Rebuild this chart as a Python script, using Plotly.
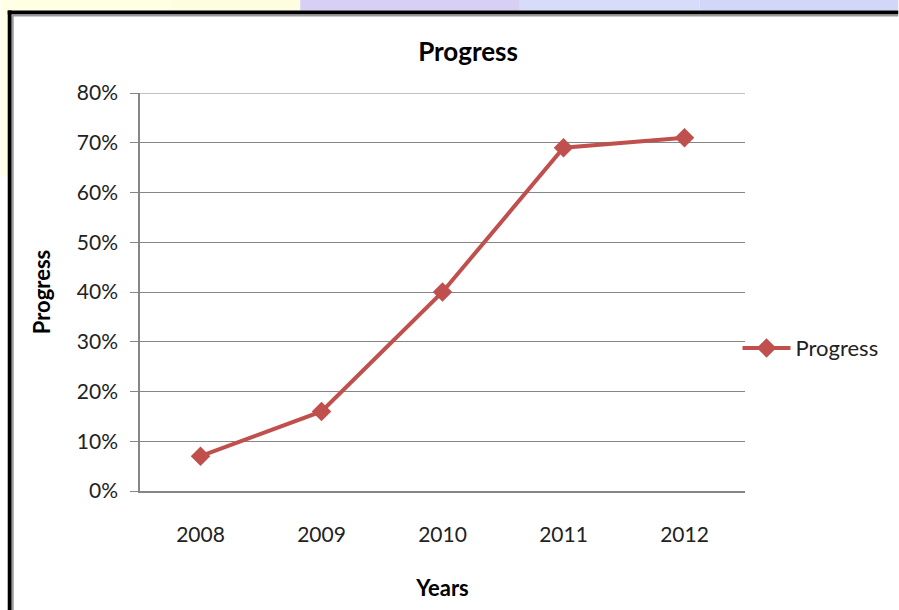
import plotly.graph_objects as go

years = ["2008", "2009", "2010", "2011", "2012"]
progress = [0.07, 0.16, 0.40, 0.69, 0.71]
y_ticks = [0, 0.1, 0.2, 0.3, 0.4, 0.5, 0.6, 0.7, 0.8]
y_tick_labels = ["0%", "10%", "20%", "30%", "40%", "50%", "60%", "70%", "80%"]

W, H = 899, 610
L, R, T, B = 139.5, 153.5, 93.3, 119.3
pw, ph = W - L - R, H - T - B

def px(x):
    return (x - L) / pw

def py(y):
    return 1 - (y - T) / ph

RED = "#C0504D"
GRID = "#868686"
FONT = "Lato, 'Open Sans', sans-serif"

fig = go.Figure()
fig.add_trace(go.Scatter(
    x=years, y=progress, mode="lines+markers", name="Progress",
    line=dict(color=RED, width=4),
    marker=dict(symbol="diamond", size=15, color=RED),
))

shapes = []
bands = [(0, 170, "#FFFFE3"), (170, 300, "#FFFDE0"), (300, 520, "#D8D0F4"),
         (520, 700, "#D6DCFA"), (700, 899, "#D2D6F8")]
for x0, x1, c in bands:
    shapes.append(dict(type="rect", xref="paper", yref="paper", x0=px(x0), x1=px(x1),
                       y0=py(11), y1=py(0), fillcolor=c, line=dict(width=0), layer="below"))
shapes.append(dict(type="rect", xref="paper", yref="paper", x0=px(0), x1=px(7),
                   y0=py(177), y1=py(11), fillcolor="#FFFFE3", line=dict(width=0), layer="below"))
shapes.append(dict(type="rect", xref="paper", yref="paper", x0=px(7), x1=px(899),
                   y0=py(15), y1=py(11), fillcolor="black", line=dict(width=0)))
shapes.append(dict(type="rect", xref="paper", yref="paper", x0=px(7), x1=px(11),
                   y0=py(610), y1=py(11), fillcolor="black", line=dict(width=0)))
shapes.append(dict(type="rect", xref="paper", yref="paper", x0=px(11), x1=px(899),
                   y0=py(17), y1=py(15), fillcolor="#999999", line=dict(width=0)))
shapes.append(dict(type="rect", xref="paper", yref="paper", x0=px(11), x1=px(13),
                   y0=py(610), y1=py(15), fillcolor="#999999", line=dict(width=0)))
shapes.append(dict(type="line", xref="paper", yref="y", x0=0, x1=1,
                   y0=y_ticks[-1], y1=y_ticks[-1], line=dict(color=GRID, width=1.2), layer="below"))

fig.update_layout(
    width=W, height=H,
    margin=dict(l=L, r=R, t=T, b=B, autoexpand=False),
    paper_bgcolor="white", plot_bgcolor="white",
    font=dict(family=FONT, color="#222222", size=21),
    title=dict(text="<b>Progress</b>", x=px(455), xanchor="center",
               y=1 - 52 / H, yanchor="middle", font=dict(size=26, color="black")),
    showlegend=True,
    legend=dict(x=px(738), xanchor="left", y=py(348), yanchor="middle",
                font=dict(size=22, color="#222222"), bgcolor="rgba(0,0,0,0)",
                itemwidth=48, tracegroupgap=0),
    shapes=shapes,
)
fig.update_xaxes(
    type="category", range=[-0.5, 4.5], showgrid=False, automargin=False,
    showline=True, linecolor=GRID, linewidth=1.5,
    ticks="", tickfont=dict(size=21), ticklabelstandoff=24,
    title=dict(text="<b>Years</b>", font=dict(size=22, color="black"), standoff=36),
)
fig.update_yaxes(
    range=[0, 0.8], tickvals=y_ticks, ticktext=y_tick_labels, automargin=False,
    showgrid=True, gridcolor=GRID, gridwidth=1.2,
    showline=True, linecolor=GRID, linewidth=1.5,
    ticks="outside", ticklen=8, tickcolor=GRID, tickwidth=1.2,
    tickfont=dict(size=21), ticklabelstandoff=8,
    title=dict(text="<b>Progress</b>", font=dict(size=22, color="black"), standoff=20),
    zeroline=False,
)

fig.write_html("out.html")
